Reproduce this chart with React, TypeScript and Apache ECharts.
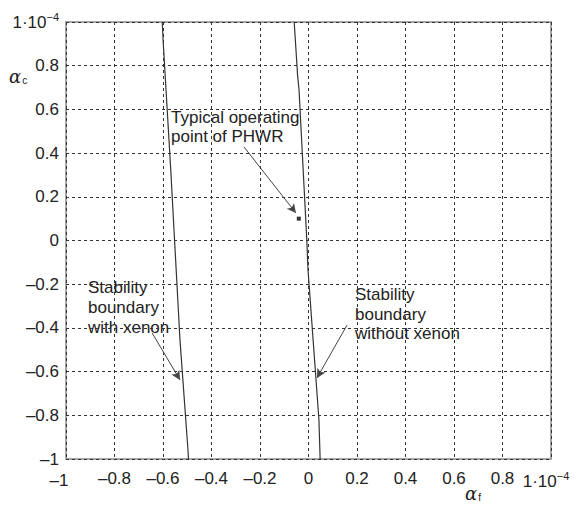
import React, { useEffect, useRef } from "react";
import * as echarts from "echarts";

// Stability boundary with xenon (alpha_f, alpha_c) in units of 1e-4
const withXenon: [number, number][] = [
  [-0.603, 1.0],
  [-0.599, 0.904],
  [-0.568, 0.323],
  [-0.53, -0.455],
  [-0.497, -0.959],
  [-0.495, -1.0],
];
// Stability boundary without xenon
const withoutXenon: [number, number][] = [
  [-0.059, 1.0],
  [-0.045, 0.757],
  [-0.039, 0.689],
  [-0.007, 0.002],
  [-0.002, -0.135],
  [0.043, -0.82],
  [0.048, -1.0],
];
// Typical operating point of PHWR
const operatingPoint: [number, number][] = [[-0.04, 0.1]];

// Annotation arrows: [from, to] in data coordinates
const arrows: [[number, number], [number, number]][] = [
  [[-0.266, 0.428], [-0.052, 0.126]],
  [[-0.645, -0.423], [-0.53, -0.638]],
  [[0.159, -0.387], [0.035, -0.629]],
];

const axisMin = -1;
const axisMax = 1;
const tickStep = 0.2;

const FONT = "'Liberation Sans', Arial, Helvetica, sans-serif";

function fmt(v: number, axis: "x" | "y"): string {
  const r = Math.round(v * 10) / 10;
  if (r === 1) return axis === "x" ? "{b|1·10}{sx|−4}" : "{b|1·10}{s|−4}";
  if (r === 0) return "0";
  let s = Math.abs(r) === 1 ? "1" : Math.abs(r).toFixed(1);
  if (r < 0) s = "–" + s;
  if (axis === "x" && r === -1) return "{lx|" + s + "}";
  return s;
}

const rich = {
  b: { fontSize: 17, fontFamily: FONT, color: "#222" },
  s: { fontSize: 11, fontFamily: FONT, color: "#222", verticalAlign: "bottom", padding: [0, 0, 11, 0] },
  sx: { fontSize: 11, fontFamily: FONT, color: "#222", verticalAlign: "bottom", padding: [0, 10, 11, 0] },
  lx: { fontSize: 17, fontFamily: FONT, color: "#222", padding: [2, 14, 0, 0] },
};

export default function App() {
  const ref = useRef<HTMLDivElement>(null);
  useEffect(() => {
    if (!ref.current) return;
    const chart = echarts.init(ref.current, undefined, { renderer: "svg" });
    const gridLine = { show: true, lineStyle: { color: "#333", type: [3, 3] as any, width: 1 } };
    const alphaRich = {
      a: { fontSize: 18, fontFamily: "'DejaVu Serif', serif", fontStyle: "italic", fill: "#222" },
      c: { fontSize: 10, fontFamily: FONT, fill: "#222", verticalAlign: "bottom", padding: [7, 0, 0, 1] },
    };
    chart.setOption({
      animation: false,
      backgroundColor: "#fff",
      grid: { left: 66, right: 25, top: 22, bottom: 48, show: true, borderColor: "#888", borderWidth: 1.5, backgroundColor: "transparent" },
      xAxis: {
        type: "value",
        min: axisMin,
        max: axisMax,
        interval: tickStep,
        axisLine: { show: false },
        axisTick: { show: false },
        splitLine: gridLine,
        axisLabel: {
          margin: 11,
          fontSize: 17,
          fontFamily: FONT,
          color: "#222",
          formatter: (v: number) => fmt(v, "x"),
          rich,
        },
      },
      yAxis: {
        type: "value",
        min: axisMin,
        max: axisMax,
        interval: tickStep,
        axisLine: { show: false },
        axisTick: { show: false },
        splitLine: gridLine,
        axisLabel: {
          margin: 7,
          fontSize: 17,
          fontFamily: FONT,
          color: "#222",
          formatter: (v: number) => fmt(v, "y"),
          rich,
        },
      },
      series: [
        {
          type: "line",
          data: withXenon,
          showSymbol: false,
          lineStyle: { color: "#333", width: 1.2 },
        },
        {
          type: "line",
          data: withoutXenon,
          showSymbol: false,
          lineStyle: { color: "#333", width: 1.2 },
        },
        {
          type: "scatter",
          data: operatingPoint,
          symbol: "rect",
          symbolSize: 4,
          itemStyle: { color: "#000" },
          markLine: {
            silent: true,
            symbol: ["none", "arrow"],
            symbolSize: [7, 9],
            label: { show: false },
            lineStyle: { color: "#444", width: 1, type: "solid" },
            data: arrows.map(([a, b]) => [{ coord: a }, { coord: b }]),
          },
        },
      ],
      graphic: [
        {
          type: "text",
          left: 171,
          top: 108,
          style: { text: "Typical operating\npoint of PHWR", fontSize: 17, fontFamily: FONT, fill: "#222", lineHeight: 19 },
        },
        {
          type: "text",
          left: 88,
          top: 277,
          style: { text: "Stability\nboundary\nwith xenon", fontSize: 17, fontFamily: FONT, fill: "#222", lineHeight: 20 },
        },
        {
          type: "text",
          left: 355,
          top: 285,
          style: { text: "Stability\nboundary\nwithout xenon", fontSize: 17, fontFamily: FONT, fill: "#222", lineHeight: 19.5 },
        },
        {
          type: "text",
          left: 9,
          top: 67,
          style: { text: "{a|α}{c|c}", rich: alphaRich },
        },
        {
          type: "text",
          left: 465,
          top: 484,
          style: { text: "{a|α}{c|f}", rich: alphaRich },
        },
      ],
    });
    return () => chart.dispose();
  }, []);
  return <div ref={ref} style={{ position: "fixed", left: 0, top: 0, width: 576, height: 507 }} />;
}
